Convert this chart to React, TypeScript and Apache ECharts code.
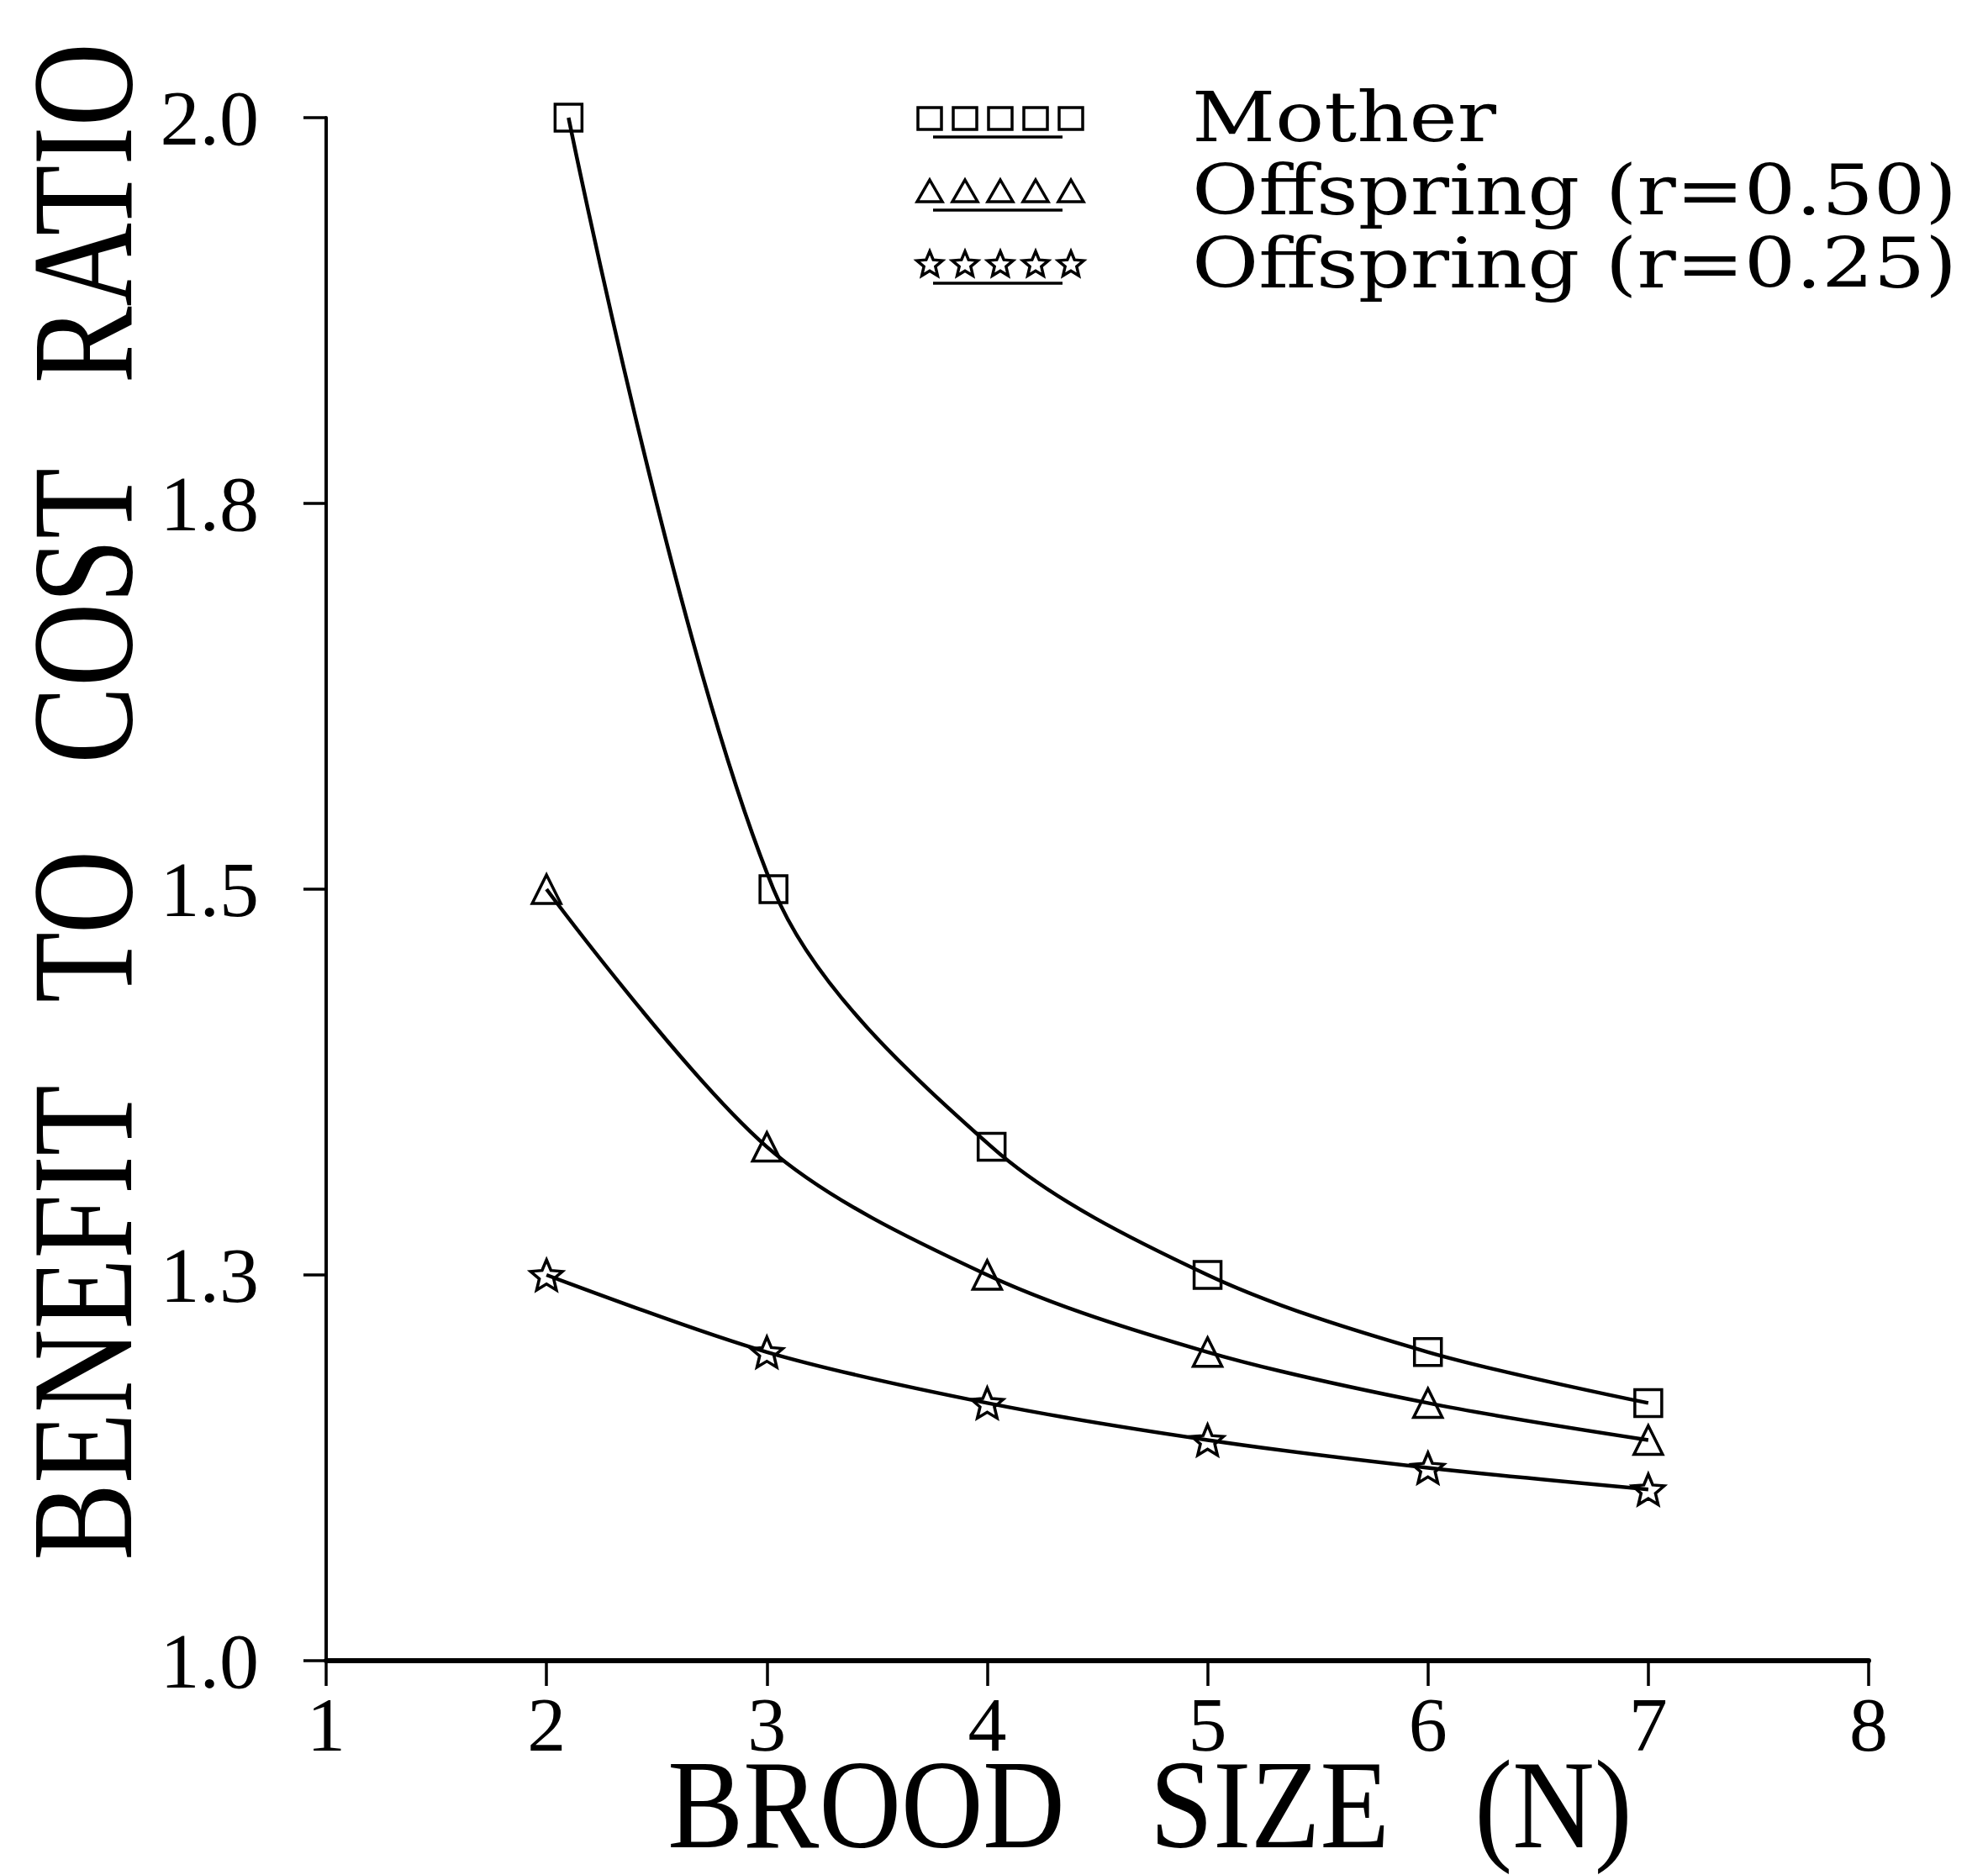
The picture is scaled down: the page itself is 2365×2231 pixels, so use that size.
import React, { useEffect, useRef } from 'react';
import * as echarts from 'echarts';

// ---- data ----
const xTicks = [1, 2, 3, 4, 5, 6, 7, 8];
const yTicks = [1.0, 1.25, 1.5, 1.75, 2.0];
const seriesNames = ['Mother', 'Offspring (r=0.50)', 'Offspring (r=0.25)'];

const motherX = [2.1, 3.03, 4.02, 5.0, 6.0, 7.0];
const motherY = [2.0, 1.5, 1.333, 1.25, 1.2, 1.167];

const off50X = [2, 3, 4, 5, 6, 7];
const off50Y = [1.5, 1.333, 1.25, 1.2, 1.167, 1.143];

const off25X = [2, 3, 4, 5, 6, 7];
const off25Y = [1.25, 1.2, 1.167, 1.143, 1.125, 1.111];

const xTitle = 'BROOD   SIZE   (N)';
const yTitle = 'BENEFIT   TO   COST   RATIO';

// ---- styling ----
const STAR_PATH =
  'path://M100,0 L126.5,63.6 L195.1,69.1 L142.8,113.9 L158.8,180.9 L100,145 L41.2,180.9 L57.2,113.9 L4.9,69.1 L73.5,63.6 Z';

const SERIF = '"Liberation Serif", "Times New Roman", serif';
const LEGEND_FONT = '"DejaVu Serif", serif';

function starPoints(cx: number, cy: number, r: number): number[][] {
  const pts: number[][] = [];
  for (let i = 0; i < 10; i++) {
    const a = -Math.PI / 2 + (i * Math.PI) / 5;
    const rr = i % 2 === 0 ? r : r * 0.45;
    pts.push([cx + rr * Math.cos(a), cy + rr * Math.sin(a)]);
  }
  return pts;
}

function legendGraphics(): any[] {
  const out: any[] = [];
  const rowTop = 140;
  const rowGap = 87;
  const symX0 = 1106;
  const symDx = 42;
  const textX = 1418;
  const kinds = ['square', 'triangle', 'star'];
  seriesNames.forEach((name, i) => {
    const cy = rowTop + i * rowGap;
    for (let k = 0; k < 5; k++) {
      const cx = symX0 + k * symDx;
      const st = { fill: 'none', stroke: '#000', lineWidth: 3.5 };
      if (kinds[i] === 'square') {
        out.push({ type: 'rect', shape: { x: cx - 14, y: cy - 12, width: 28, height: 26 }, style: st });
      } else if (kinds[i] === 'triangle') {
        out.push({ type: 'polygon', shape: { points: [[cx, cy - 13], [cx + 15, cy + 13], [cx - 15, cy + 13]] }, style: st });
      } else {
        out.push({ type: 'polygon', shape: { points: starPoints(cx, cy + 1, 16) }, style: st });
      }
    }
    out.push({
      type: 'line',
      shape: { x1: symX0 + 4, y1: cy + 23, x2: symX0 + 4 * symDx - 10, y2: cy + 23 },
      style: { stroke: '#000', lineWidth: 3.5 },
    });
    out.push({
      type: 'text',
      x: textX,
      y: cy,
      scaleX: 1.18,
      style: {
        text: name,
        fontFamily: LEGEND_FONT,
        fontSize: 82,
        fill: '#000',
        align: 'left',
        verticalAlign: 'middle',
      },
    });
  });
  return out;
}

function makeSeries(name: string, xs: number[], ys: number[], symbol: string, size: any) {
  return {
    type: 'line',
    name,
    data: xs.map((x, i) => [x, ys[i]]),
    smooth: 0.32,
    symbol,
    symbolSize: size,
    showAllSymbol: true,
    lineStyle: { color: '#000', width: 4.5 },
    itemStyle: { color: 'rgba(0,0,0,0)', borderColor: '#000', borderWidth: 3.5 },
    emphasis: { disabled: true },
  };
}

export default function App() {
  const ref = useRef<HTMLDivElement>(null);
  useEffect(() => {
    document.body.style.margin = '0';
    const chart = echarts.init(ref.current as HTMLDivElement, null, { renderer: 'svg' });
    const option: any = {
      animation: false,
      backgroundColor: '#fff',
      grid: { left: 388, right: 142, top: 140, bottom: 255, containLabel: false },
      xAxis: {
        type: 'value',
        min: xTicks[0],
        max: xTicks[xTicks.length - 1],
        interval: xTicks[1] - xTicks[0],
        axisLine: { show: true, onZero: false, lineStyle: { color: '#000', width: 6 } },
        axisTick: { show: true, length: 30, lineStyle: { color: '#000', width: 3.5 } },
        axisLabel: { margin: 30, color: '#000', fontFamily: SERIF, fontSize: 92 },
        splitLine: { show: false },
      },
      yAxis: {
        type: 'value',
        min: yTicks[0],
        max: yTicks[yTicks.length - 1],
        interval: yTicks[1] - yTicks[0],
        axisLine: { show: true, onZero: false, lineStyle: { color: '#000', width: 4 } },
        axisTick: { show: true, length: 27, lineStyle: { color: '#000', width: 3.5 } },
        axisLabel: {
          margin: 80,
          color: '#000',
          fontFamily: SERIF,
          fontSize: 94,
          formatter: (v: number) => v.toFixed(1),
        },
        splitLine: { show: false },
      },
      series: [
        makeSeries(seriesNames[0], motherX, motherY, 'rect', 32),
        makeSeries(seriesNames[1], off50X, off50Y, 'triangle', 34),
        makeSeries(seriesNames[2], off25X, off25Y, STAR_PATH, [38, 36]),
      ],
      graphic: [
        {
          type: 'text',
          x: 98,
          y: 954,
          rotation: Math.PI / 2,
          scaleX: 0.8,
          style: {
            text: yTitle,
            fontFamily: SERIF,
            fontSize: 172,
            lineHeight: 140,
            fill: '#000',
            align: 'center',
            verticalAlign: 'middle',
          },
        },
        {
          type: 'text',
          x: 1368,
          y: 2148,
          scaleX: 0.9,
          style: {
            text: xTitle,
            fontFamily: SERIF,
            fontSize: 150,
            lineHeight: 120,
            fill: '#000',
            align: 'center',
            verticalAlign: 'middle',
          },
        },
        ...legendGraphics(),
      ],
    };
    chart.setOption(option);
    return () => chart.dispose();
  }, []);
  return <div ref={ref} style={{ width: 2365, height: 2231, background: '#fff' }} />;
}
